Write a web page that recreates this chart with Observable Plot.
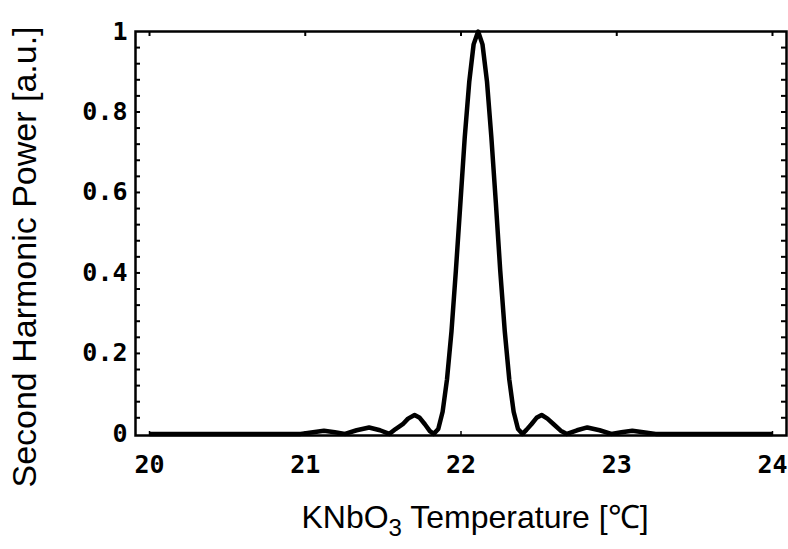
<!DOCTYPE html>
<html><head><meta charset="utf-8">
<script src="https://cdn.jsdelivr.net/npm/d3@7"></script>
<script src="https://cdn.jsdelivr.net/npm/@observablehq/plot@0.6"></script>
<style>body{margin:0;background:#fff}</style>
</head><body><div id="chart"></div>
<script>
// Values
const temperature = [20.00, 20.97, 21.05, 21.12, 21.19, 21.255, 21.33, 21.41, 21.48, 21.54,
  21.58, 21.626, 21.66, 21.702, 21.735, 21.768, 21.80, 21.825, 21.854, 21.882, 21.91, 21.939,
  21.967, 21.996, 22.024, 22.053, 22.081, 22.11, 22.138, 22.167, 22.195, 22.224, 22.252,
  22.281, 22.31, 22.338, 22.366, 22.395, 22.42, 22.452, 22.485, 22.518, 22.555, 22.595,
  22.64, 22.68, 22.745, 22.811, 22.89, 22.965, 23.03, 23.10, 23.17, 23.25, 24.00];
const power = [0, 0, 0.004, 0.008, 0.004, 0, 0.009, 0.016, 0.009, 0,
  0.012, 0.024, 0.038, 0.047, 0.040, 0.024, 0.007, 0, 0.012, 0.055, 0.135, 0.255,
  0.405, 0.573, 0.737, 0.875, 0.968, 1.0, 0.968, 0.875, 0.737, 0.573, 0.405,
  0.255, 0.135, 0.055, 0.012, 0, 0.010, 0.024, 0.040, 0.047, 0.038, 0.024,
  0.008, 0, 0.009, 0.016, 0.009, 0, 0.004, 0.008, 0.004, 0, 0];

const xTicks = [20, 21, 22, 23, 24];
const yTicks = [0, 0.2, 0.4, 0.6, 0.8, 1];
const yMinorTicks = [0.04, 0.08, 0.12, 0.16, 0.2, 0.24, 0.28, 0.32, 0.36, 0.4, 0.44, 0.48,
  0.52, 0.56, 0.6, 0.64, 0.68, 0.72, 0.76, 0.8, 0.84, 0.88, 0.92, 0.96];
const xLabel = "KNbO";
const xLabelSub = "3";
const xLabelRest = " Temperature [\u2103]";
const yLabel = "Second Harmonic Power [a.u.]";

const data = temperature.map((t, i) => ({t, p: power[i]}));

const W = 788, H = 549;
const mL = 135, mR = 2, mT = 31, mB = 114;
const innerW = W - mL - mR, innerH = H - mT - mB;
const tickFont = {fontFamily: "DejaVu Sans Mono, Liberation Mono, monospace", fontSize: 25, fontWeight: "bold"};

const chart = Plot.plot({
  width: W, height: H,
  marginLeft: mL, marginRight: mR, marginTop: mT, marginBottom: mB,
  style: {background: "#fff", color: "#000", overflow: "visible"},
  x: {domain: [19.91, 24.09]},
  y: {domain: [-0.004, 1.0]},
  marks: [
    Plot.axisX({ticks: xTicks, tickSize: 0, tickPadding: 20, tickFormat: d => String(d), label: null, ...tickFont}),
    Plot.axisY({ticks: yTicks, tickSize: 0, tickPadding: 8, tickFormat: d => d === 0 ? "0" : d === 1 ? "1" : d.toFixed(1), label: null, ...tickFont}),
    // inward frame ticks
    Plot.tickY(yMinorTicks, {y: d => d, insetRight: innerW - 5, stroke: "#000", strokeWidth: 2}),
    Plot.tickY(yMinorTicks, {y: d => d, insetLeft: innerW - 5, stroke: "#000", strokeWidth: 2}),
    Plot.tickX(xTicks, {x: d => d, insetBottom: innerH - 5, stroke: "#000", strokeWidth: 2}),
    Plot.tickX(xTicks, {x: d => d, insetTop: innerH - 4, stroke: "#000", strokeWidth: 1.5}),
    Plot.frame({stroke: "#000", strokeWidth: 2.5}),
    Plot.line(data, {x: "t", y: "p", stroke: "#000", strokeWidth: 4.5, strokeLinejoin: "round", strokeLinecap: "butt"})
  ]
});

const svg = d3.select(chart);
svg.append("text")
  .attr("transform", `translate(27,257) rotate(-90)`)
  .attr("text-anchor", "middle")
  .attr("dominant-baseline", "middle")
  .attr("font-family", "Liberation Sans, Arial, sans-serif")
  .attr("font-size", 34)
  .attr("fill", "#000")
  .text(yLabel);
const xt = svg.append("text")
  .attr("x", 475).attr("y", 528)
  .attr("text-anchor", "middle")
  .attr("font-family", "Liberation Sans, Arial, sans-serif")
  .attr("font-size", 32)
  .attr("fill", "#000");
xt.append("tspan").text(xLabel);
xt.append("tspan").attr("dy", 8).attr("font-size", 24).text(xLabelSub);
xt.append("tspan").attr("dy", -8).text(xLabelRest);

document.getElementById("chart").appendChild(chart);
</script>
</body></html>
